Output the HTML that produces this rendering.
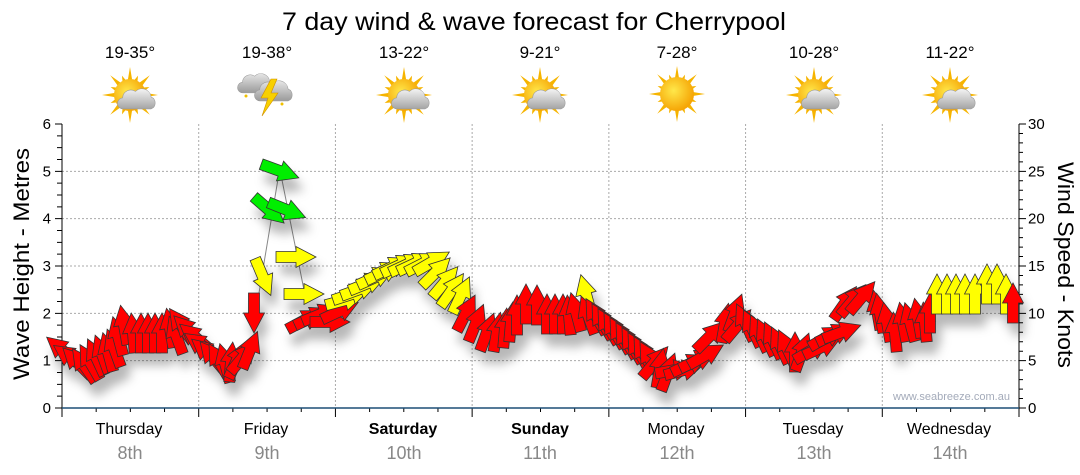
<!DOCTYPE html>
<html><head><meta charset="utf-8"><style>
html,body{margin:0;padding:0;background:#fff;}
svg{display:block;font-family:"Liberation Sans",Arial,sans-serif;}
.r{fill:#ff0000}.y{fill:#ffff00}.g{fill:#00ee00}
</style></head><body>
<svg width="1080" height="475" viewBox="0 0 1080 475" xmlns="http://www.w3.org/2000/svg" xmlns:xlink="http://www.w3.org/1999/xlink">
<defs>
<path id="a" d="M-5.5,20 L5.5,20 L5.5,0 L10.5,0 L0,-20 L-10.5,0 L-5.5,0 Z" stroke="#333" stroke-width="0.8" stroke-linejoin="miter"/>
<radialGradient id="sg" cx="40%" cy="40%" r="65%"><stop offset="0" stop-color="#ffe84a"/><stop offset="1" stop-color="#f5a000"/></radialGradient>
<linearGradient id="cg" x1="0" y1="0" x2="0" y2="1"><stop offset="0" stop-color="#f4f4f4"/><stop offset="1" stop-color="#a4a4a4"/></linearGradient>
<linearGradient id="cg2" x1="0" y1="0" x2="0" y2="1"><stop offset="0" stop-color="#e6e6e6"/><stop offset="1" stop-color="#9a9a9a"/></linearGradient>
<g id="rays"><polygon fill="#f6b400" points="0,-28 2.54,-12.75 8.04,-19.4 7.22,-10.81 19.8,-19.8 10.81,-7.22 19.4,-8.04 12.75,-2.54 28,0 12.75,2.54 19.4,8.04 10.81,7.22 19.8,19.8 7.22,10.81 8.04,19.4 2.54,12.75 0,28 -2.54,12.75 -8.04,19.4 -7.22,10.81 -19.8,19.8 -10.81,7.22 -19.4,8.04 -12.75,2.54 -28,0 -12.75,-2.54 -19.4,-8.04 -10.81,-7.22 -19.8,-19.8 -7.22,-10.81 -8.04,-19.4 -2.54,-12.75"/></g>
<path id="cl" d="M6,26 a6,6 0 0 1 -1,-12 a9,9 0 0 1 14,-7 a10,10 0 0 1 17,6 a7,7 0 0 1 0,13 Z" fill="url(#cg)" stroke="#999" stroke-width="0.6"/>
<g id="sc"><use href="#rays"/><circle r="16" fill="url(#sg)"/><use href="#cl" transform="translate(-12,-10) scale(0.92)"/></g>
<filter id="sh" x="-10%" y="-10%" width="130%" height="140%"><feDropShadow dx="5" dy="12" stdDeviation="5" flood-color="#000" flood-opacity="0.28"/></filter>
</defs>
<rect width="1080" height="475" fill="#fff"/>

<!-- title -->
<text x="534" y="30" font-size="25" text-anchor="middle" textLength="504" lengthAdjust="spacingAndGlyphs" fill="#000">7 day wind &amp; wave forecast for Cherrypool</text>

<!-- temps -->
<g font-size="17" text-anchor="middle" fill="#000">
<text x="130" y="58">19-35°</text>
<text x="267" y="58">19-38°</text>
<text x="404" y="58">13-22°</text>
<text x="540" y="58">9-21°</text>
<text x="677" y="58">7-28°</text>
<text x="814" y="58">10-28°</text>
<text x="950" y="58">11-22°</text>
</g>

<!-- icons -->
<use href="#sc" transform="translate(130,95)"/>
<use href="#sc" transform="translate(404,95)"/>
<use href="#sc" transform="translate(540,95)"/>
<use href="#sc" transform="translate(814,95)"/>
<use href="#sc" transform="translate(950,95)"/>
<g transform="translate(677,94)"><use href="#rays"/><circle r="17" fill="url(#sg)"/></g>
<g>
<path d="M6,26 a6,6 0 0 1 -1,-12 a9,9 0 0 1 14,-7 a10,10 0 0 1 17,6 a7,7 0 0 1 0,13 Z" fill="url(#cg2)" stroke="#999" stroke-width="0.6" transform="translate(238,70) scale(0.88)"/>
<path d="M6,26 a6,6 0 0 1 -1,-12 a9,9 0 0 1 14,-7 a10,10 0 0 1 17,6 a7,7 0 0 1 0,13 Z" fill="url(#cg2)" stroke="#999" stroke-width="0.6" transform="translate(255,77) scale(0.92)"/>
<polygon points="271,79 261,98 268,98 262,116 278,93 271,93 277,79" fill="#f8d000" stroke="#d09000" stroke-width="0.6"/>
<circle cx="246" cy="96" r="1.5" fill="#f0c000"/><circle cx="282" cy="104" r="1.5" fill="#f0c000"/>
</g>

<!-- gridlines -->
<g stroke="#aaa" stroke-width="1" stroke-dasharray="2,2" fill="none">
<path d="M62,360.67H1019M62,313.33H1019M62,266H1019M62,218.67H1019M62,171.33H1019"/>
<path d="M198.71,124V408M335.43,124V408M472.14,124V408M608.86,124V408M745.57,124V408M882.29,124V408"/>
</g>

<!-- axes -->
<g stroke="#000" stroke-width="1" fill="none">
<path d="M62,124V408M1019,124V408"/>
<path d="M55,408H62M57,396.17H62M57,384.33H62M57,372.5H62M55,360.67H62M57,348.83H62M57,337H62M57,325.17H62M55,313.33H62M57,301.5H62M57,289.67H62M57,277.83H62M55,266H62M57,254.17H62M57,242.33H62M57,230.5H62M55,218.67H62M57,206.83H62M57,195H62M57,183.17H62M55,171.33H62M57,159.5H62M57,147.67H62M57,135.83H62M55,124H62"/>
<path d="M1019,408H1026M1019,398.53H1023M1019,389.07H1023M1019,379.6H1023M1019,370.13H1023M1019,360.67H1026M1019,351.2H1023M1019,341.73H1023M1019,332.27H1023M1019,322.8H1023M1019,313.33H1026M1019,303.87H1023M1019,294.4H1023M1019,284.93H1023M1019,275.47H1023M1019,266H1026M1019,256.53H1023M1019,247.07H1023M1019,237.6H1023M1019,228.13H1023M1019,218.67H1026M1019,209.2H1023M1019,199.73H1023M1019,190.27H1023M1019,180.8H1023M1019,171.33H1026M1019,161.87H1023M1019,152.4H1023M1019,142.93H1023M1019,133.47H1023M1019,124H1026"/>
<path d="M62,408V417M96.18,408V412M130.36,408V412M164.54,408V412M198.71,408V417M232.89,408V412M267.07,408V412M301.25,408V412M335.43,408V417M369.61,408V412M403.79,408V412M437.96,408V412M472.14,408V417M506.32,408V412M540.5,408V412M574.68,408V412M608.86,408V417M643.04,408V412M677.21,408V412M711.39,408V412M745.57,408V417M779.75,408V412M813.93,408V412M848.11,408V412M882.29,408V417M916.46,408V412M950.64,408V412M984.82,408V412M1019,408V417"/>
</g>
<path d="M62,408H1019" stroke="#1d4f76" stroke-width="1.6"/>

<!-- axis labels -->
<g font-size="15" fill="#000" text-anchor="end">
<text x="51" y="413">0</text><text x="51" y="365.7">1</text><text x="51" y="318.3">2</text><text x="51" y="271">3</text><text x="51" y="223.7">4</text><text x="51" y="176.3">5</text><text x="51" y="129">6</text>
</g>
<g font-size="15" fill="#000">
<text x="1028" y="413">0</text><text x="1028" y="365.7">5</text><text x="1028" y="318.3">10</text><text x="1028" y="271">15</text><text x="1028" y="223.7">20</text><text x="1028" y="176.3">25</text><text x="1028" y="129">30</text>
</g>
<text transform="translate(29,264) rotate(-90)" font-size="22" text-anchor="middle" textLength="232" lengthAdjust="spacingAndGlyphs" fill="#000">Wave Height - Metres</text>
<text transform="translate(1058,265) rotate(90)" font-size="22" text-anchor="middle" textLength="206" lengthAdjust="spacingAndGlyphs" fill="#000">Wind Speed - Knots</text>

<!-- day labels -->
<g font-size="16" text-anchor="middle" fill="#000">
<text x="129" y="434">Thursday</text>
<text x="266" y="434">Friday</text>
<text x="403" y="434" font-weight="bold">Saturday</text>
<text x="540" y="434" font-weight="bold">Sunday</text>
<text x="676" y="434">Monday</text>
<text x="813" y="434">Tuesday</text>
<text x="949" y="434">Wednesday</text>
</g>
<g font-size="18" text-anchor="middle" fill="#888">
<text x="130" y="459">8th</text><text x="267" y="459">9th</text><text x="404" y="459">10th</text><text x="540" y="459">11th</text><text x="677" y="459">12th</text><text x="814" y="459">13th</text><text x="950" y="459">14th</text>
</g>

<text x="893" y="400" font-size="11" fill="#a4abba" textLength="117" lengthAdjust="spacingAndGlyphs">www.seabreeze.com.au</text>

<!-- grey line -->
<path d="M259,293 L278,179 M282,180 L304,290" stroke="#888" stroke-width="1" fill="none"/>

<!-- arrows -->
<g filter="url(#sh)">
<use href="#a" class="r" transform="translate(62 350) rotate(-50)"/>
<use href="#a" class="r" transform="translate(70 357) rotate(-55)"/>
<use href="#a" class="r" transform="translate(77 362) rotate(-45)"/>
<use href="#a" class="r" transform="translate(84 365) rotate(-35)"/>
<use href="#a" class="r" transform="translate(90 362) rotate(-30)"/>
<use href="#a" class="r" transform="translate(96 357) rotate(-25)"/>
<use href="#a" class="r" transform="translate(102 354) rotate(-20)"/>
<use href="#a" class="r" transform="translate(108 352) rotate(-15)"/>
<use href="#a" class="r" transform="translate(114 348) rotate(-20)"/>
<use href="#a" class="r" transform="translate(118 336) rotate(-15)"/>
<use href="#a" class="r" transform="translate(124 325) rotate(-10)"/>
<use href="#a" class="r" transform="translate(133 333) rotate(-5)"/>
<use href="#a" class="r" transform="translate(141 333) rotate(0)"/>
<use href="#a" class="r" transform="translate(148 333) rotate(0)"/>
<use href="#a" class="r" transform="translate(155 333) rotate(0)"/>
<use href="#a" class="r" transform="translate(162 333) rotate(0)"/>
<use href="#a" class="r" transform="translate(170 328) rotate(-10)"/>
<use href="#a" class="r" transform="translate(176 335) rotate(-20)"/>
<use href="#a" class="r" transform="translate(181 325) rotate(-35)"/>
<use href="#a" class="r" transform="translate(188 330) rotate(-45)"/>
<use href="#a" class="r" transform="translate(195 337) rotate(-50)"/>
<use href="#a" class="r" transform="translate(201 345) rotate(-55)"/>
<use href="#a" class="r" transform="translate(207 352) rotate(-50)"/>
<use href="#a" class="r" transform="translate(213 357) rotate(-40)"/>
<use href="#a" class="r" transform="translate(219 361) rotate(-30)"/>
<use href="#a" class="r" transform="translate(225 363) rotate(-15)"/>
<use href="#a" class="r" transform="translate(231 362) rotate(5)"/>
<use href="#a" class="r" transform="translate(237 360) rotate(25)"/>
<use href="#a" class="r" transform="translate(243 357) rotate(40)"/>
<use href="#a" class="r" transform="translate(250 350) rotate(22)"/>
<use href="#a" class="r" transform="translate(254 313) rotate(180)"/>
<use href="#a" class="y" transform="translate(263 277) rotate(157)"/>
<use href="#a" class="g" transform="translate(269 210) rotate(131)"/>
<use href="#a" class="g" transform="translate(280 171) rotate(110)"/>
<use href="#a" class="g" transform="translate(287 210) rotate(112)"/>
<use href="#a" class="y" transform="translate(296 257) rotate(90)"/>
<use href="#a" class="y" transform="translate(304 294) rotate(90)"/>
<use href="#a" class="r" transform="translate(305 320) rotate(62)"/>
<use href="#a" class="r" transform="translate(313 317) rotate(65)"/>
<use href="#a" class="r" transform="translate(321 314) rotate(68)"/>
<use href="#a" class="r" transform="translate(330 322) rotate(90)"/>
<use href="#a" class="r" transform="translate(340 311) rotate(65)"/>
<use href="#a" class="y" transform="translate(345 300) rotate(75)"/>
<use href="#a" class="y" transform="translate(352 294) rotate(72)"/>
<use href="#a" class="y" transform="translate(360 289) rotate(70)"/>
<use href="#a" class="y" transform="translate(368 283) rotate(68)"/>
<use href="#a" class="y" transform="translate(376 277) rotate(66)"/>
<use href="#a" class="y" transform="translate(384 272) rotate(65)"/>
<use href="#a" class="y" transform="translate(392 267) rotate(65)"/>
<use href="#a" class="y" transform="translate(400 265) rotate(65)"/>
<use href="#a" class="y" transform="translate(408 264) rotate(65)"/>
<use href="#a" class="y" transform="translate(416 263) rotate(65)"/>
<use href="#a" class="y" transform="translate(424 263) rotate(63)"/>
<use href="#a" class="y" transform="translate(432 262) rotate(60)"/>
<use href="#a" class="y" transform="translate(436 272) rotate(45)"/>
<use href="#a" class="y" transform="translate(445 282) rotate(40)"/>
<use href="#a" class="y" transform="translate(452 290) rotate(35)"/>
<use href="#a" class="y" transform="translate(461 295) rotate(25)"/>
<use href="#a" class="r" transform="translate(466 313) rotate(27)"/>
<use href="#a" class="r" transform="translate(476 323) rotate(22)"/>
<use href="#a" class="r" transform="translate(487 332) rotate(20)"/>
<use href="#a" class="r" transform="translate(497 332) rotate(10)"/>
<use href="#a" class="r" transform="translate(505 328) rotate(5)"/>
<use href="#a" class="r" transform="translate(511 322) rotate(5)"/>
<use href="#a" class="r" transform="translate(517 315) rotate(0)"/>
<use href="#a" class="r" transform="translate(526 304) rotate(0)"/>
<use href="#a" class="r" transform="translate(537 305) rotate(0)"/>
<use href="#a" class="r" transform="translate(547 314) rotate(0)"/>
<use href="#a" class="r" transform="translate(555 314) rotate(0)"/>
<use href="#a" class="r" transform="translate(563 314) rotate(0)"/>
<use href="#a" class="r" transform="translate(569 315) rotate(-5)"/>
<use href="#a" class="r" transform="translate(576 312) rotate(-15)"/>
<use href="#a" class="y" transform="translate(586 294) rotate(-15)"/>
<use href="#a" class="r" transform="translate(588 315) rotate(-20)"/>
<use href="#a" class="r" transform="translate(596 316) rotate(-30)"/>
<use href="#a" class="r" transform="translate(602 321) rotate(-30)"/>
<use href="#a" class="r" transform="translate(608 326) rotate(-30)"/>
<use href="#a" class="r" transform="translate(614 330) rotate(-30)"/>
<use href="#a" class="r" transform="translate(620 335) rotate(-30)"/>
<use href="#a" class="r" transform="translate(626 340) rotate(-30)"/>
<use href="#a" class="r" transform="translate(632 345) rotate(-30)"/>
<use href="#a" class="r" transform="translate(638 350) rotate(-30)"/>
<use href="#a" class="r" transform="translate(644 354) rotate(-30)"/>
<use href="#a" class="r" transform="translate(650 359) rotate(-30)"/>
<use href="#a" class="r" transform="translate(655 362) rotate(40)"/>
<use href="#a" class="r" transform="translate(660 368) rotate(10)"/>
<use href="#a" class="r" transform="translate(668 372) rotate(20)"/>
<use href="#a" class="r" transform="translate(675 370) rotate(80)"/>
<use href="#a" class="r" transform="translate(684 370) rotate(75)"/>
<use href="#a" class="r" transform="translate(690 364) rotate(65)"/>
<use href="#a" class="r" transform="translate(698 360) rotate(65)"/>
<use href="#a" class="r" transform="translate(706 355) rotate(60)"/>
<use href="#a" class="r" transform="translate(710 336) rotate(45)"/>
<use href="#a" class="r" transform="translate(725 323) rotate(10)"/>
<use href="#a" class="r" transform="translate(735 313) rotate(20)"/>
<use href="#a" class="r" transform="translate(738 325) rotate(40)"/>
<use href="#a" class="r" transform="translate(745 322) rotate(-25)"/>
<use href="#a" class="r" transform="translate(752 328) rotate(-25)"/>
<use href="#a" class="r" transform="translate(759 333) rotate(-25)"/>
<use href="#a" class="r" transform="translate(766 337) rotate(-25)"/>
<use href="#a" class="r" transform="translate(773 340) rotate(-25)"/>
<use href="#a" class="r" transform="translate(780 345) rotate(-25)"/>
<use href="#a" class="r" transform="translate(787 348) rotate(-25)"/>
<use href="#a" class="r" transform="translate(795 352) rotate(0)"/>
<use href="#a" class="r" transform="translate(802 352) rotate(20)"/>
<use href="#a" class="r" transform="translate(812 350) rotate(60)"/>
<use href="#a" class="r" transform="translate(822 347) rotate(65)"/>
<use href="#a" class="r" transform="translate(827 337) rotate(60)"/>
<use href="#a" class="r" transform="translate(835 334) rotate(65)"/>
<use href="#a" class="r" transform="translate(842 332) rotate(70)"/>
<use href="#a" class="r" transform="translate(845 303) rotate(35)"/>
<use href="#a" class="r" transform="translate(853 300) rotate(40)"/>
<use href="#a" class="r" transform="translate(862 297) rotate(40)"/>
<use href="#a" class="r" transform="translate(877 310) rotate(-10)"/>
<use href="#a" class="r" transform="translate(880 313) rotate(-10)"/>
<use href="#a" class="r" transform="translate(887 322) rotate(-10)"/>
<use href="#a" class="r" transform="translate(895 332) rotate(-5)"/>
<use href="#a" class="r" transform="translate(903 322) rotate(-10)"/>
<use href="#a" class="r" transform="translate(910 322) rotate(-15)"/>
<use href="#a" class="r" transform="translate(918 318) rotate(-10)"/>
<use href="#a" class="r" transform="translate(925 322) rotate(-5)"/>
<use href="#a" class="r" transform="translate(930 313) rotate(0)"/>
<use href="#a" class="y" transform="translate(937 294) rotate(0)"/>
<use href="#a" class="y" transform="translate(947 294) rotate(0)"/>
<use href="#a" class="y" transform="translate(956 294) rotate(0)"/>
<use href="#a" class="y" transform="translate(965 294) rotate(0)"/>
<use href="#a" class="y" transform="translate(975 294) rotate(0)"/>
<use href="#a" class="y" transform="translate(987 284) rotate(0)"/>
<use href="#a" class="y" transform="translate(997 284) rotate(0)"/>
<use href="#a" class="y" transform="translate(1006 294) rotate(0)"/>
<use href="#a" class="r" transform="translate(1013 303) rotate(0)"/>
</g>
</svg>
</body></html>
